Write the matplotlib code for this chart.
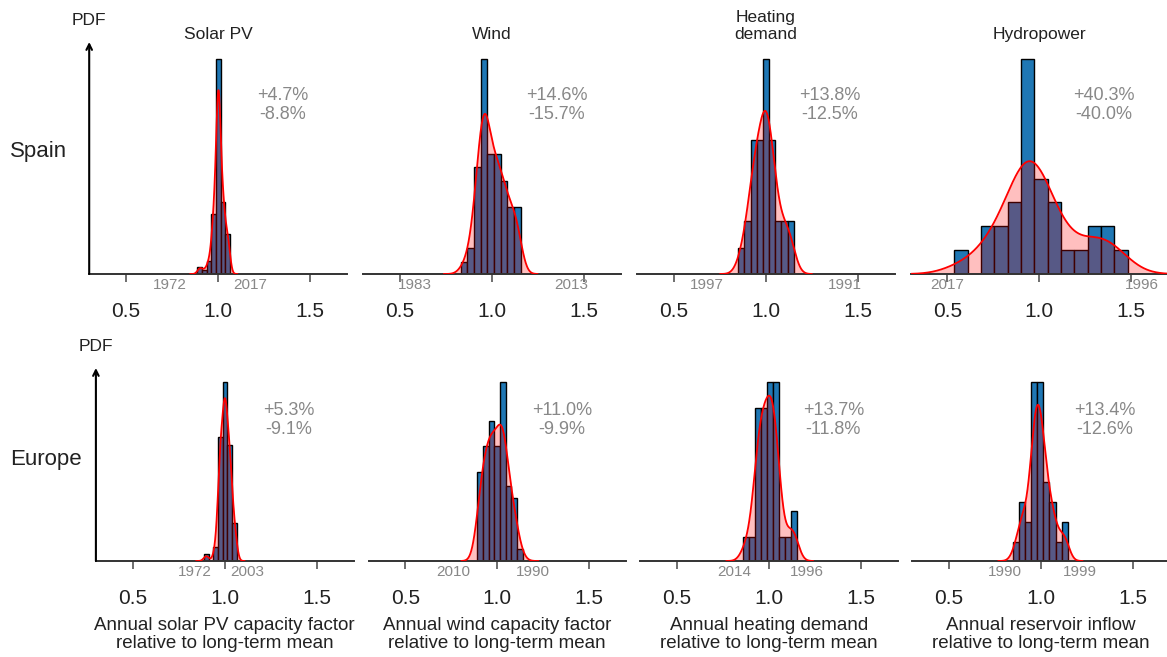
import numpy as np
import matplotlib.pyplot as plt

plt.rcParams['font.family'] = ['Liberation Sans', 'DejaVu Sans']

# bar heights (relative units, turned into a density below)
solar_es = [6.7, 4.3, 13.3, 60, 216, 72, 40]
wind_es = [12, 26, 107, 215, 120, 120, 93, 67, 67]
heat_es = [26, 53, 134, 134, 215, 134, 53, 53, 53]
hydro_es = [24, 0, 48, 48, 72, 216, 96, 72, 24, 24, 48, 48, 24]
solar_eu = [6.7, 0, 14, 124, 179, 116, 38]
wind_eu = [89, 115, 140, 115, 179, 75, 63, 12]
heat_eu = [24, 24, 153, 153, 179, 179, 24, 24, 50]
hydro_eu = [19, 59, 39, 179, 179, 79, 59, 19, 39]

bin_start = [[0.888, 0.830, 0.851, 0.538], [0.8875, 0.891, 0.857, 0.851]]
bin_width = [[0.0254, 0.0362, 0.0335, 0.0725], [0.0254, 0.0308, 0.0326, 0.0328]]
n_years = [[46, 31, 32, 31], [46, 31, 32, 34]]
bw_adjust = [[1.0, 0.85, 1.0, 1.0], [1.1, 1.0, 1.0, 0.9]]

spread = [["+4.7%\n-8.8%", "+14.6%\n-15.7%", "+13.8%\n-12.5%", "+40.3%\n-40.0%"],
          ["+5.3%\n-9.1%", "+11.0%\n-9.9%", "+13.7%\n-11.8%", "+13.4%\n-12.6%"]]
years = [[("1972", "2017"), ("1983", "2013"), ("1997", "1991"), ("2017", "1996")],
         [("1972", "2003"), ("2010", "1990"), ("2014", "1996"), ("1990", "1999")]]
year_pos = [[(0.739, 1.174), (0.582, 1.429), (0.681, 1.431), (0.497, 1.560)],
            [(0.839, 1.121), (0.759, 1.194), (0.8125, 1.204), (0.806, 1.214)]]

titles = ["Solar PV", "Wind", "Heating\ndemand", "Hydropower"]
rows = ["Spain", "Europe"]
xlabels = ["Annual solar PV capacity factor\nrelative to long-term mean",
           "Annual wind capacity factor\nrelative to long-term mean",
           "Annual heating demand\nrelative to long-term mean",
           "Annual reservoir inflow\nrelative to long-term mean"]

heights = [[solar_es, wind_es, heat_es, hydro_es],
           [solar_eu, wind_eu, heat_eu, hydro_eu]]

W, H = 1167, 657
fig = plt.figure(figsize=(W / 100, H / 100), dpi=100)

lefts = [[89.2, 363.2, 636.9, 910.5], [95.9, 368.5, 640.2, 911.9]]
tops = [42, 368]
bottoms = [274, 561]
axw = 257.6

for r in range(2):
    for c in range(4):
        ax = fig.add_axes([lefts[r][c] / W, 1 - bottoms[r] / H,
                           axw / W, (bottoms[r] - tops[r]) / H])
        h = np.array(heights[r][c], dtype=float)
        w = bin_width[r][c]
        edges = bin_start[r][c] + w * np.arange(len(h) + 1)
        dens = h / (h.sum() * w)
        ax.bar(edges[:-1], dens, width=w, align='edge', color='#1f77b4',
               edgecolor='black', linewidth=1, zorder=1)

        # gaussian kde from the binned values (scott's rule)
        centers = edges[:-1] + w / 2
        mu = np.sum(h * centers) / h.sum()
        sd = np.sqrt(np.sum(h * (centers - mu) ** 2) / h.sum())
        bw = sd * n_years[r][c] ** (-1 / 5) * bw_adjust[r][c]
        xs = np.linspace(edges[0] - 3 * bw, edges[-1] + 3 * bw, 400)
        kde = np.sum(h[:, None] * np.exp(-0.5 * ((xs[None, :] - centers[:, None]) / bw) ** 2), axis=0)
        kde = kde / (h.sum() * bw * np.sqrt(2 * np.pi))
        ax.fill_between(xs, kde, color='red', alpha=0.25, linewidth=0, zorder=2)
        ax.plot(xs, kde, color='red', lw=1.3, zorder=3)

        ax.set_xlim(0.3, 1.7)
        ax.set_ylim(0, dens.max() * 1.08)
        ax.set_yticks([])
        ax.set_xticks([0.5, 1.0, 1.5])
        ax.set_xticklabels(["0.5", "1.0", "1.5"])
        ax.tick_params(axis='x', length=6, width=1.2, color='#555555', pad=14,
                       labelsize=15, labelcolor='#222222')
        for s in ['top', 'right', 'left']:
            ax.spines[s].set_visible(False)
        ax.spines['bottom'].set_linewidth(1.4)
        ax.spines['bottom'].set_color('#333333')

        ax.text(0.75, 0.73, spread[r][c], transform=ax.transAxes, ha='center',
                va='center', fontsize=13, color='#888888', linespacing=1.15)

        y0, y1 = years[r][c]
        p0, p1 = year_pos[r][c]
        for yr, px in [(y0, p0), (y1, p1)]:
            ax.annotate(yr, xy=(px, 0), xycoords=('data', 'axes fraction'),
                        xytext=(0, -3), textcoords='offset points', ha='center',
                        va='top', fontsize=11, color='#888888')

        if c == 0:
            ax.annotate('', xy=(0, 1), xytext=(0, 0), xycoords='axes fraction',
                        arrowprops=dict(arrowstyle='->', color='black', lw=1.5,
                                        shrinkA=0, shrinkB=0))
            ax.annotate('PDF', xy=(0, 1), xycoords='axes fraction', xytext=(0, 10),
                        textcoords='offset points', ha='center', va='bottom',
                        fontsize=12.5, color='#222222')
        if r == 0:
            ax.set_title(titles[c], fontsize=12.5, pad=2, color='#222222')
        else:
            ax.set_xlabel(xlabels[c], fontsize=13.5, linespacing=1.05, color='#222222',
                          labelpad=7)

for r in range(2):
    y = [152, 460][r]
    fig.text(10 / W, 1 - y / H, rows[r], fontsize=16, ha='left', va='center',
             color='#222222')

fig.savefig('out.png', dpi=100)
